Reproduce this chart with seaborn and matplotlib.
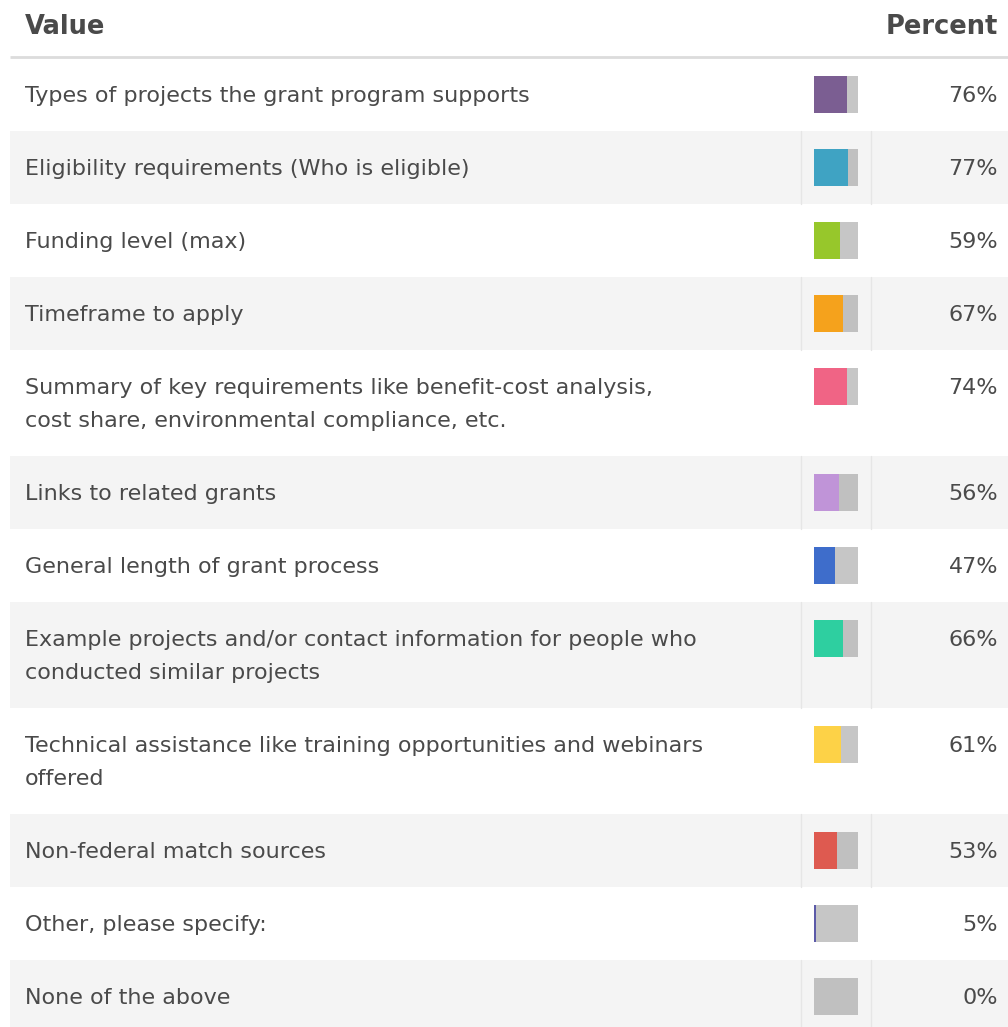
import matplotlib
matplotlib.use("Agg")
import matplotlib.pyplot as plt
from matplotlib.patches import Rectangle
import seaborn as sns
import pandas as pd

# ---- data ----
labels = [
    "Types of projects the grant program supports",
    "Eligibility requirements (Who is eligible)",
    "Funding level (max)",
    "Timeframe to apply",
    "Summary of key requirements like benefit-cost analysis,\ncost share, environmental compliance, etc.",
    "Links to related grants",
    "General length of grant process",
    "Example projects and/or contact information for people who\nconducted similar projects",
    "Technical assistance like training opportunities and webinars\noffered",
    "Non-federal match sources",
    "Other, please specify:",
    "None of the above",
]
percents = [76, 77, 59, 67, 74, 56, 47, 66, 61, 53, 5, 0]
colors = ["#7b5e92", "#3fa3c3", "#97c72b", "#f5a21c", "#f06485", "#c094d8",
          "#3e6dcb", "#2ecfa0", "#fdd247", "#de5a50", "#5c5aa8", "#c6c6c6"]
header_left = "Value"
header_right = "Percent"

# ---- style ----
sns.set_theme(style="white")
plt.rcParams["font.family"] = ["DejaVu Sans"]
TXT = "#4a4a4a"
W, H = 1008, 1027
fig = plt.figure(figsize=(W / 100, H / 100), dpi=100)
ax = fig.add_axes([0, 0, 1, 1])
ax.set_xlim(0, W)
ax.set_ylim(H, 0)
ax.axis("off")

# header
ax.text(25, 34, header_left, fontsize=18.5, fontweight="bold", color=TXT, ha="left", va="baseline")
ax.text(998, 34, header_right, fontsize=18.5, fontweight="bold", color=TXT, ha="right", va="baseline")
ax.plot([10, W], [57, 57], color="#dcdcdc", lw=2, solid_capstyle="butt")

top = 58
for i, (lab, pct, col) in enumerate(zip(labels, percents, colors)):
    lines = lab.split("\n")
    h = 73 + 33 * (len(lines) - 1)
    rem_col = "#c6c6c6"
    if i % 2 == 1:
        ax.add_patch(Rectangle((10, top), W - 10, h, facecolor="#f4f4f4", edgecolor="none", zorder=0))
        ax.plot([800.5, 800.5], [top, top + h], color="#e6e6e6", lw=1, zorder=1)
        ax.plot([870.5, 870.5], [top, top + h], color="#e6e6e6", lw=1, zorder=1)
        rem_col = "#c0c0c0"
    for j, ln in enumerate(lines):
        ax.text(25, top + 44 + 33 * j, ln, fontsize=16, color=TXT, ha="left", va="baseline")
    ax.text(998, top + 44, f"{pct}%", fontsize=16, color=TXT, ha="right", va="baseline")

    # bar
    bax = fig.add_axes([814 / W, 1 - (top + 18 + 37) / H, 44 / W, 37 / H])
    df_bg = pd.DataFrame({"v": [100], "c": ["x"]})
    df_fg = pd.DataFrame({"v": [pct], "c": ["x"]})
    sns.barplot(data=df_bg, x="v", y="c", color=rem_col, saturation=1, width=1,
                linewidth=0, ax=bax)
    if pct > 0:
        sns.barplot(data=df_fg, x="v", y="c", color=col, saturation=1, width=1,
                    linewidth=0, ax=bax)
    bax.set_xlim(0, 100)
    bax.set_ylim(0.5, -0.5)
    bax.axis("off")
    top += h

fig.savefig("out.png", dpi=100)
